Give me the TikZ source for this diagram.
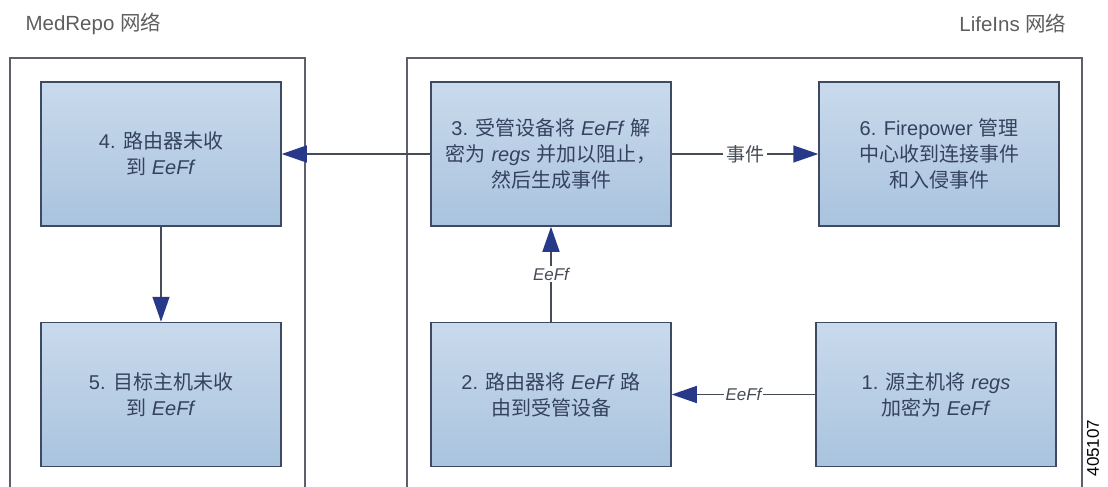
\documentclass[tikz,border=0pt]{standalone}
\usepackage{fontspec}
\setmainfont{Liberation Sans}
\newfontfamily\cjk{Noto Sans CJK SC}
\newcommand{\zh}[1]{{\cjk #1}}
\usetikzlibrary{arrows.meta}
\definecolor{boxtop}{HTML}{C9DAEC}
\definecolor{boxbot}{HTML}{A9C3DE}
\definecolor{boxline}{HTML}{3E4A63}
\definecolor{boxtext}{HTML}{35425F}
\definecolor{tipblue}{HTML}{28398A}
\definecolor{wire}{HTML}{454B57}
\definecolor{frameline}{HTML}{5B606B}
\definecolor{headtext}{HTML}{5E5E5E}

\begin{document}
\begin{tikzpicture}[x=1pt,y=-1pt,
		stepbox/.style={draw=boxline, line width=1.5pt, top color=boxtop, bottom color=boxbot,
			minimum width=240pt, minimum height=144pt, inner sep=0pt, align=center,
			text=boxtext, font=\fontsize{20}{26}\selectfont},
		flow/.style={draw=wire, line width=1.5pt, -{Triangle[length=25pt,width=17pt,color=tipblue]}},
		tag/.style={fill=white, inner sep=2pt, text=wire, font=\fontsize{17}{20}\selectfont\itshape},
		head/.style={text=headtext, font=\fontsize{20.5}{24}\selectfont},
		net/.style={draw=frameline, line width=2pt}]
			\useasboundingbox (0,0) rectangle (1108,487);
			% networks
			\draw[net] (10,487) -- (10,58) -- (305,58) -- (305,487);
			\draw[net] (407,487) -- (407,58) -- (1082,58) -- (1082,487);
			\node[head, anchor=west] (medrepo) at (22,24) {MedRepo \zh{网络}};
			\node[head, anchor=east] (lifeins) at (1070,24) {LifeIns \zh{网络}};
			% steps
			\node[stepbox] (medrouter) at (161,154) {4. \zh{路由器未收}\\\zh{到} \textit{EeFf}};
			\node[stepbox] (device) at (551,154) {3. \zh{受管设备将} \textit{EeFf} \zh{解}\\\zh{密为} \textit{regs} \zh{并加以阻止，}\\\zh{然后生成事件}};
			\node[stepbox] (fmc) at (939,154) {6. Firepower \zh{管理}\\\zh{中心收到连接事件}\\\zh{和入侵事件}};
			\node[stepbox] (dsthost) at (161,394.5) {5. \zh{目标主机未收}\\\zh{到} \textit{EeFf}};
			\node[stepbox] (router) at (551,394.5) {2. \zh{路由器将} \textit{EeFf} \zh{路}\\\zh{由到受管设备}};
			\node[stepbox] (srchost) at (936,394.5) {1. \zh{源主机将} \textit{regs}\\\zh{加密为} \textit{EeFf}};
			% flows
			\draw[flow] (srchost) -- node[tag] {EeFf} (router);
			\draw[flow] (router) -- node[tag] {EeFf} (device);
			\draw[flow] (device) -- (medrouter);
			\draw[flow] (device) -- node[tag, inner sep=3pt, font=\fontsize{19}{22}\selectfont] {\zh{事件}} (fmc);
			\draw[flow] (medrouter) -- (dsthost);
			\node[rotate=90, font=\fontsize{17}{20}\selectfont] (figid) at (1093,448) {405107};
		\end{tikzpicture}
\end{document}
